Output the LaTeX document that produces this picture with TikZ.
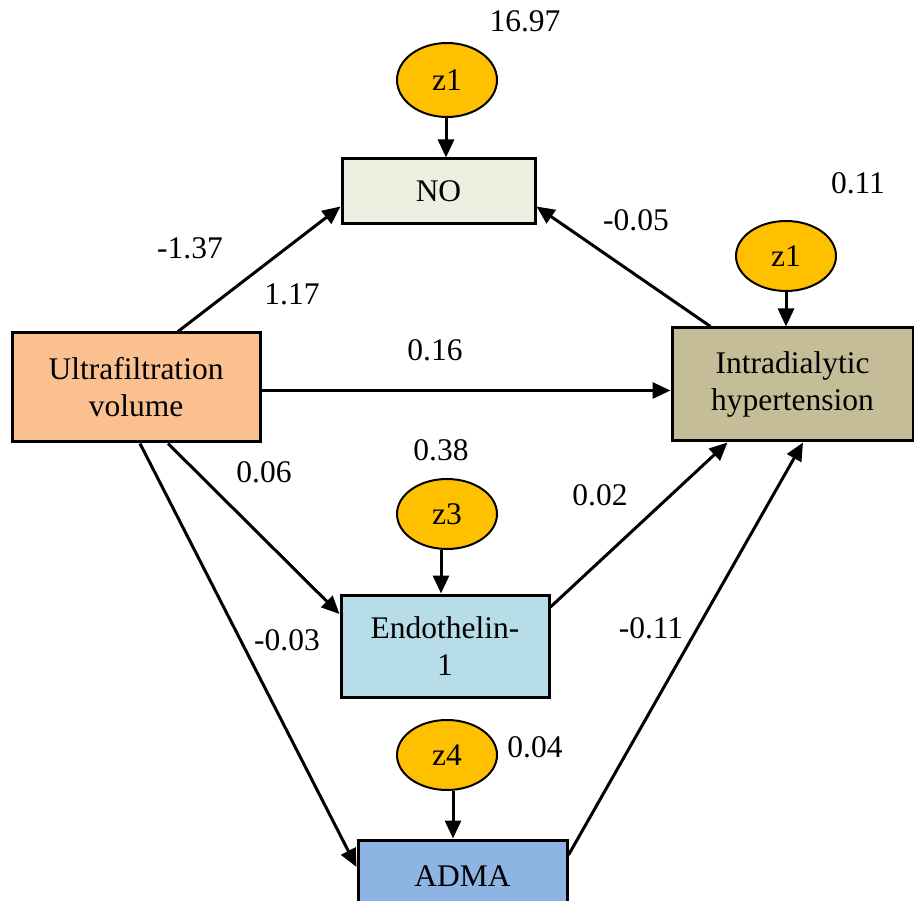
\documentclass[tikz,border=0pt]{standalone}
\usepackage{fontspec}
\setmainfont{Liberation Serif}
\usetikzlibrary{arrows.meta,shapes.geometric,calc}
\definecolor{nofill}{HTML}{EBEFDF}
\definecolor{uffill}{HTML}{FAC090}
\definecolor{ihfill}{HTML}{C4BD97}
\definecolor{endofill}{HTML}{B7DDE8}
\definecolor{admafill}{HTML}{8EB4E3}
\definecolor{zfill}{HTML}{FFC000}
\tikzset{
  every node/.style={font=\fontsize{31.5}{37}\selectfont},
  varbox/.style={draw=black, line width=3pt, rectangle, align=center, inner sep=0pt},
  errell/.style={draw=black, line width=2pt, ellipse, fill=zfill, minimum width=100pt, minimum height=70pt, inner sep=0pt},
  conn/.style={line width=3pt, -{Triangle[length=18pt,width=16pt]}},
  coef/.style={inner sep=0pt}
}
\begin{document}
\begin{tikzpicture}[x=1pt,y=-1pt]
\useasboundingbox (0,0) rectangle (914,901);
% boxes
\node[varbox, fill=nofill, minimum width=193pt, minimum height=65pt] (no) at (438.5,191.5) {NO};
\node[varbox, fill=uffill, minimum width=248pt, minimum height=109pt] (uf) at (136,387.5) {Ultrafiltration\\volume};
\node[varbox, fill=ihfill, minimum width=241pt, minimum height=113pt] (ih) at (792.5,384.5) {Intradialytic\\hypertension};
\node[varbox, fill=endofill, minimum width=208pt, minimum height=102pt] (endo) at (445,646) {Endothelin-\\1};
\node[varbox, fill=admafill, minimum width=209pt, minimum height=72pt] (adma) at (462.5,876) {ADMA};
% error terms
\node[errell, minimum height=74pt] (z1a) at (447,80) {z1};
\node[errell] (z1b) at (786,256) {z1};
\node[errell] (z3) at (447,514) {z3};
\node[errell] (z4) at (447,755) {z4};
% connectors
\draw[conn] ([xshift=-1pt]z1a.south) -- ([xshift=-1pt]z1a.south |- no.north);
\draw[conn] ([xshift=42pt]uf.north) -- ([yshift=-15pt]no.west);
\draw[conn] ([xshift=-82pt]ih.north) -- ([yshift=-15pt]no.east);
\draw[conn] ([yshift=-3pt]uf.east) -- ([yshift=-3pt]uf.east -| ih.west);
\draw[conn] (z1b.south) -- (z1b.south |- ih.north);
\draw[conn] ([xshift=32pt]uf.south) -- ([yshift=32pt]endo.west);
\draw[conn] ([xshift=4pt]uf.south) -- ([yshift=9pt]adma.west);
\draw[conn] ([xshift=-6pt]z3.south) -- ([xshift=-6pt]z3.south |- endo.north);
\draw[conn] ([yshift=39pt]endo.east) -- ([xshift=-65pt]ih.south);
\draw[conn] ([xshift=6pt]z4.south) -- ([xshift=6pt]z4.south |- adma.north);
\draw[conn] ([yshift=21pt]adma.east) -- ([xshift=10.5pt]ih.south);
% coefficients
\node[coef] (c1) at (525,21) {16.97};
\node[coef] (c2) at (190,248) {-1.37};
\node[coef] (c3) at (292,294) {1.17};
\node[coef] (c4) at (435,350) {0.16};
\node[coef] (c5) at (636,220) {-0.05};
\node[coef] (c6) at (858,183) {0.11};
\node[coef] (c7) at (441,450) {0.38};
\node[coef] (c8) at (264,472) {0.06};
\node[coef] (c9) at (600,495) {0.02};
\node[coef] (c10) at (287,640) {-0.03};
\node[coef] (c11) at (651,628) {-0.11};
\node[coef] (c12) at (535,747) {0.04};
\end{tikzpicture}
\end{document}
